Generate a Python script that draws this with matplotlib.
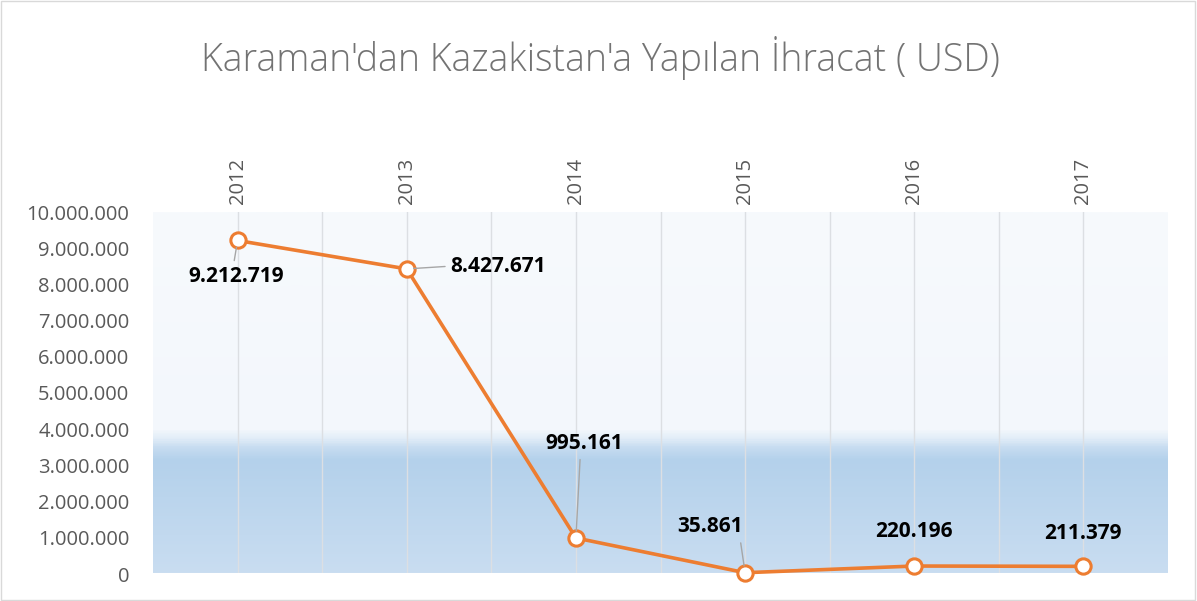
import matplotlib.pyplot as plt
import numpy as np
from matplotlib.colors import LinearSegmentedColormap
from matplotlib.ticker import FuncFormatter, MultipleLocator

plt.rcParams['font.family'] = ['Open Sans', 'DejaVu Sans']

years = ['2012', '2013', '2014', '2015', '2016', '2017']
values = [9212719, 8427671, 995161, 35861, 220196, 211379]
labels = ['9.212.719', '8.427.671', '995.161', '35.861', '220.196', '211.379']
# label offsets in points (dx, dy) and where the leader line leaves the label box
offsets = [(-1, -26), (66, 2), (6, 68), (-25, 33), (0, 25), (0, 24)]
leader_rel = [(0.47, 1.0), (0.0, 0.5), (0.45, 0.0), (0.95, 0.0), None, None]

fig = plt.figure(figsize=(11.97, 6.01), dpi=100)
fig.patches.append(plt.Rectangle((0.001, 0.001), 0.997, 0.997, transform=fig.transFigure,
                                 fill=False, edgecolor='#d9d9d9', linewidth=1))
ax = fig.add_axes([153 / 1197, 27 / 601, 1015 / 1197, 362 / 601])

x = np.arange(len(years))
ymax = 10000000

# background gradient of the plot area
stops = [(0.0, '#c9ddf1'), (0.315, '#b4d1eb'), (0.35, '#c8ddf1'),
         (0.375, '#e3eef8'), (0.40, '#f3f7fc'), (1.0, '#f7fafd')]
cmap = LinearSegmentedColormap.from_list('bg', stops)
grad = np.linspace(0, 1, 400).reshape(-1, 1)
ax.imshow(grad, cmap=cmap, origin='lower', aspect='auto',
          extent=(-0.5, len(years) - 0.5, 0, ymax), zorder=0)

# vertical gridlines at categories and boundaries
for xv in np.arange(-0.5, len(years), 0.5)[1:-1]:
    ax.axvline(xv, color='#dcdfe3', linewidth=1, zorder=1)

ax.plot(x, values, color='#ed7d31', linewidth=2.6, marker='o', markersize=11,
        markerfacecolor='white', markeredgecolor='#ed7d31', markeredgewidth=2.2,
        zorder=4, clip_on=False)

for xi, v, lab, off, rel in zip(x, values, labels, offsets, leader_rel):
    arrow = None
    if rel is not None:
        arrow = dict(arrowstyle='-', color='#a6a6a6', linewidth=1,
                     shrinkA=2, shrinkB=5, relpos=rel)
    ax.annotate(lab, (xi, v), xytext=off, textcoords='offset points',
                ha='center', va='center', fontsize=15, fontweight='bold',
                color='black', arrowprops=arrow, zorder=5)

ax.set_xlim(-0.5, len(years) - 0.5)
ax.set_ylim(0, ymax)
ax.yaxis.set_major_locator(MultipleLocator(1000000))
ax.yaxis.set_major_formatter(FuncFormatter(lambda v, p: f'{int(v):,}'.replace(',', '.')))
ax.tick_params(axis='y', length=0, labelsize=14.5, labelcolor='#595959', pad=17)

ax.xaxis.tick_top()
ax.set_xticks(x)
ax.set_xticklabels(years, rotation=90)
ax.tick_params(axis='x', length=0, labelsize=14.5, labelcolor='#595959', pad=6)

for s in ['left', 'right', 'top']:
    ax.spines[s].set_visible(False)
ax.spines['bottom'].set_color('white')
ax.spines['bottom'].set_linewidth(1.5)

fig.text(600 / 1197, 1 - 58 / 601, "Karaman'dan Kazakistan'a Yapılan İhracat ( USD)",
         ha='center', va='center', fontsize=27, color='#737373', fontweight='light')

fig.savefig('out.png', dpi=100)
